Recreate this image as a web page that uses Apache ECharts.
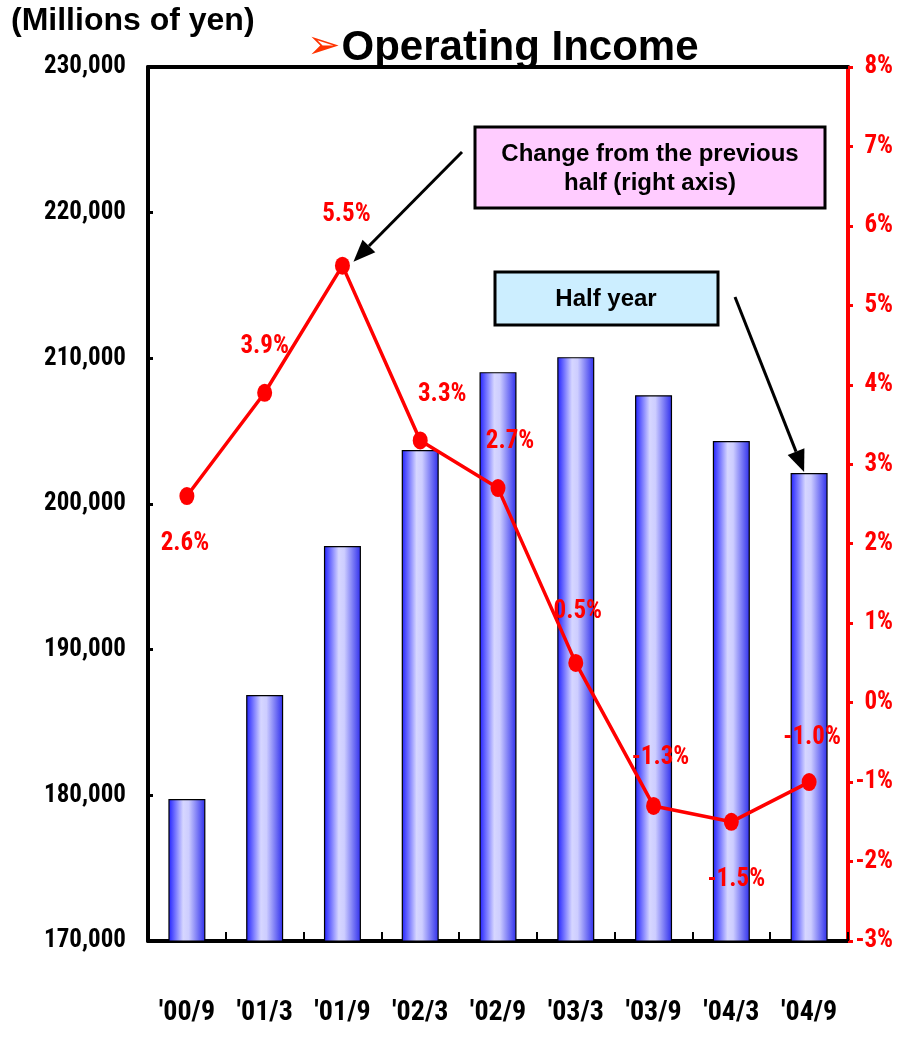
<!DOCTYPE html>
<html>
<head>
<meta charset="utf-8">
<title>Operating Income</title>
<script src="https://cdn.jsdelivr.net/npm/echarts@6/dist/echarts.min.js"></script>
<style>
  html, body { margin: 0; padding: 0; background: #fff; }
  #chart { width: 899px; height: 1040px; }
</style>
</head>
<body>
<div id="chart"></div>
<script>
// Half-year periods
const periods = ["'00/9", "'01/3", "'01/9", "'02/3", "'02/9", "'03/3", "'03/9", "'04/3", "'04/9"];
// Operating income per half year (millions of yen)
const operatingIncome = [179750, 186880, 197110, 203700, 209050, 210080, 207470, 204320, 202120];
// Change from the previous half (%)
const changePct = [2.6, 3.9, 5.5, 3.3, 2.7, 0.5, -1.3, -1.5, -1.0];
// Axis ranges
const leftAxisRange = { min: 170000, max: 230000, step: 10000 };
const rightAxisRange = { min: -3, max: 8, step: 1 };

// Where each percentage label sits relative to its point
const labelOffsets = [[-2, 48], [0, -46], [4, -51], [22, -46], [12, -46], [2, -51], [7, -48], [5, 58], [3, -44]];

const NARROW = "'Roboto Condensed', 'Open Sans Condensed', sans-serif";
const SANS = "'Liberation Sans', Arial, Helvetica, sans-serif";

const chart = echarts.init(document.getElementById('chart'));

const barGradient = new echarts.graphic.LinearGradient(0, 0, 1, 0, [
  { offset: 0, color: '#1f1fff' },
  { offset: 0.4, color: '#d6d6ff' },
  { offset: 0.55, color: '#cdcdff' },
  { offset: 1, color: '#2d2dec' }
]);

chart.setOption({
  animation: false,
  backgroundColor: '#ffffff',
  title: {
    text: '{a|➢}{b|Operating Income}',
    left: 302,
    top: 22,
    textStyle: {
      rich: {
        a: { color: '#ff3300', fontSize: 40, fontFamily: "'DejaVu Sans', sans-serif", padding: [0, 1, 0, 0] },
        b: { color: '#000', fontSize: 42, fontWeight: 'bold', fontFamily: SANS }
      }
    }
  },
  grid: { left: 148, right: 51, top: 67, bottom: 99, containLabel: false, outerBoundsMode: 'none' },
  xAxis: [
    {
      type: 'category',
      data: periods,
      position: 'bottom',
      axisLine: { show: true, onZero: false, lineStyle: { color: '#000', width: 4 } },
      axisTick: { show: true, inside: true, length: 9, lineStyle: { color: '#000', width: 2 } },
      axisLabel: { color: '#000', fontSize: 28, fontWeight: 'bold', fontFamily: NARROW, margin: 58, interval: 0 },
      splitLine: { show: false }
    },
    {
      type: 'category',
      data: periods,
      position: 'top',
      axisLine: { show: true, onZero: false, lineStyle: { color: '#000', width: 4 } },
      axisTick: { show: false },
      axisLabel: { show: false },
      splitLine: { show: false }
    }
  ],
  yAxis: [
    {
      type: 'value',
      position: 'left',
      min: leftAxisRange.min,
      max: leftAxisRange.max,
      interval: leftAxisRange.step,
      axisLine: { show: true, onZero: false, lineStyle: { color: '#000', width: 4 } },
      axisTick: { show: true, inside: true, length: 5, lineStyle: { color: '#000', width: 3 } },
      axisLabel: {
        color: '#000', fontSize: 25, fontWeight: 'bold', fontFamily: NARROW, margin: 22,
        formatter: v => v.toLocaleString('en-US')
      },
      splitLine: { show: false }
    },
    {
      type: 'value',
      position: 'right',
      min: rightAxisRange.min,
      max: rightAxisRange.max,
      interval: rightAxisRange.step,
      axisLine: { show: true, onZero: false, lineStyle: { color: '#ff0000', width: 4 } },
      axisTick: { show: true, inside: false, length: 5, lineStyle: { color: '#ff0000', width: 3 } },
      axisLabel: {
        color: '#ff0000', fontSize: 25, fontWeight: 'bold', fontFamily: NARROW,
        margin: 45, align: 'right',
        formatter: v => v + '%'
      },
      splitLine: { show: false }
    }
  ],
  series: [
    {
      name: 'Half year',
      type: 'bar',
      xAxisIndex: 0,
      yAxisIndex: 0,
      data: operatingIncome,
      barWidth: 37,
      itemStyle: { color: barGradient, borderColor: '#000', borderWidth: 1.2 },
      z: 2
    },
    {
      name: 'Change from the previous half',
      type: 'line',
      xAxisIndex: 0,
      yAxisIndex: 1,
      data: changePct.map((v, i) => ({
        value: v,
        label: { offset: labelOffsets[i] }
      })),
      symbol: 'circle',
      symbolSize: [15, 18],
      lineStyle: { color: '#ff0000', width: 3.5 },
      itemStyle: { color: '#ff0000' },
      label: {
        show: true,
        position: 'inside',
        color: '#ff0000',
        fontSize: 25,
        fontWeight: 'bold',
        fontFamily: NARROW,
        formatter: p => p.value.toFixed(1) + '%'
      },
      z: 5
    }
  ]
});

// Arrow from a start point to a tip, with a filled head
function arrow(x1, y1, x2, y2) {
  const dx = x2 - x1, dy = y2 - y1;
  const len = Math.hypot(dx, dy);
  const ux = dx / len, uy = dy / len;
  const headLen = 22, headHalf = 9;
  const bx = x2 - ux * headLen, by = y2 - uy * headLen;
  return [
    {
      type: 'line', z: 20,
      shape: { x1: x1, y1: y1, x2: bx, y2: by },
      style: { stroke: '#000', lineWidth: 3 }
    },
    {
      type: 'polygon', z: 20,
      shape: { points: [[x2, y2], [bx - uy * headHalf, by + ux * headHalf], [bx + uy * headHalf, by - ux * headHalf]] },
      style: { fill: '#000' }
    }
  ];
}

// Arrow tips follow the marks they point at
const peakIdx = changePct.indexOf(Math.max(...changePct));
const peak = chart.convertToPixel({ xAxisIndex: 0, yAxisIndex: 1 }, [peakIdx, changePct[peakIdx]]);
const lastIdx = operatingIncome.length - 1;
const lastBar = chart.convertToPixel({ xAxisIndex: 0, yAxisIndex: 0 }, [lastIdx, operatingIncome[lastIdx]]);

chart.setOption({
  graphic: [
    {
      type: 'text', left: 11, top: 5, z: 20,
      style: { text: '(Millions of yen)', fill: '#000', font: 'bold 32px ' + SANS }
    },
    {
      type: 'rect', z: 18,
      shape: { x: 475, y: 127, width: 350, height: 81 },
      style: { fill: '#ffccff', stroke: '#000', lineWidth: 3 }
    },
    {
      type: 'text', z: 19, x: 650, y: 169,
      style: {
        text: 'Change from the previous\nhalf (right axis)',
        fill: '#000', font: 'bold 24px ' + SANS,
        align: 'center', verticalAlign: 'middle', lineHeight: 29
      }
    },
    {
      type: 'rect', z: 18,
      shape: { x: 495, y: 272, width: 223, height: 53 },
      style: { fill: '#cceeff', stroke: '#000', lineWidth: 3 }
    },
    {
      type: 'text', z: 19, x: 606, y: 299,
      style: {
        text: 'Half year',
        fill: '#000', font: 'bold 24px ' + SANS,
        align: 'center', verticalAlign: 'middle'
      }
    },
    ...arrow(462, 152, peak[0] + 11, peak[1] - 4),
    ...arrow(735, 297, lastBar[0] - 5, lastBar[1] - 1)
  ]
});
</script>
</body>
</html>
